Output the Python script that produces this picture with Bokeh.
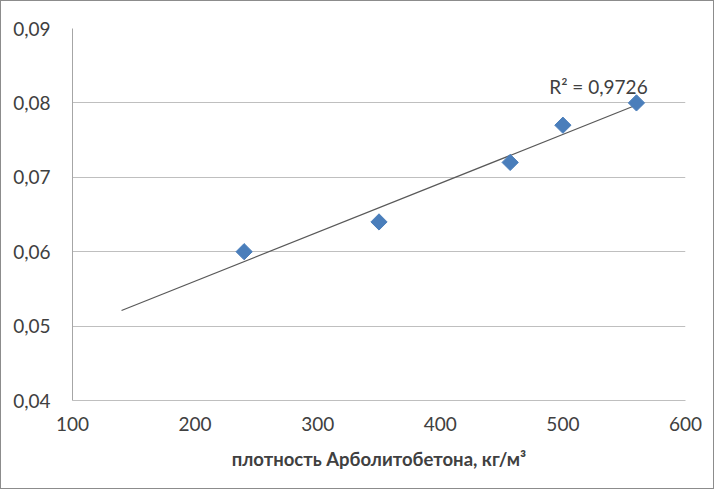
import numpy as np
from bokeh.plotting import figure
from bokeh.models import CustomJSTickFormatter, FixedTicker, Label, ColumnDataSource
from bokeh.embed import file_html
from bokeh.resources import INLINE

# data
density = [240, 350, 457, 500, 560]
conductivity = [0.060, 0.064, 0.072, 0.077, 0.080]
trend_x_range = [140, 560]
r2_text = "R² = 0,9726"
x_ticks = [100, 200, 300, 400, 500, 600]
y_ticks = [0.04, 0.05, 0.06, 0.07, 0.08, 0.09]
x_title = "плотность Арболитобетона, кг/м³"

FONT = "Lato"
TXT = "#404040"

p = figure(width=714, height=489, x_range=(100, 600), y_range=(0.04, 0.09),
           output_backend="svg", toolbar_location=None,
           min_border_left=71, min_border_right=30, min_border_top=27, min_border_bottom=90)
p.styles = {"border": "1px solid #8c8c8c"}
p.outline_line_color = None
p.background_fill_color = "white"
p.border_fill_color = "white"

# grid
p.xgrid.grid_line_color = None
p.ygrid.grid_line_color = "#bfbfbf"
p.ygrid.grid_line_width = 1
p.ygrid.ticker = FixedTicker(ticks=y_ticks)

# axes
p.xaxis.ticker = FixedTicker(ticks=x_ticks)
p.yaxis.ticker = FixedTicker(ticks=y_ticks)
p.yaxis.formatter = CustomJSTickFormatter(code="return tick.toFixed(2).replace('.', ',');")
for ax in (p.xaxis[0], p.yaxis[0]):
    ax.major_tick_line_color = None
    ax.minor_tick_line_color = None
    ax.major_label_text_font = FONT
    ax.major_label_text_font_size = "19px"
    ax.major_label_text_color = TXT
p.xaxis.major_label_standoff = 10
p.yaxis.major_label_standoff = 16
p.yaxis.axis_line_color = "#a6a6a6"
p.xaxis.axis_line_color = "#bfbfbf"
p.xaxis.axis_label = x_title
p.xaxis.axis_label_text_font = FONT
p.xaxis.axis_label_text_font_style = "bold"
p.xaxis.axis_label_text_font_size = "18.5px"
p.xaxis.axis_label_text_color = TXT
p.xaxis.axis_label_standoff = 14

# trend line (least squares fit)
k, b = np.polyfit(density, conductivity, 1)
tx = np.array(trend_x_range, dtype=float)
p.line(tx, k * tx + b, line_color="#595959", line_width=1.2)

# points
src = ColumnDataSource(dict(x=density, y=conductivity))
p.scatter("x", "y", source=src, marker="square", size=11.5, angle=np.pi / 4,
          fill_color="#4a7ebb", line_color="#4a7ebb")

p.add_layout(Label(x=529, y=0.0822, text=r2_text, text_font=FONT, text_font_size="19px",
                   text_color=TXT, text_align="center", text_baseline="middle"))

open("out.html", "w").write(file_html(p, INLINE))
